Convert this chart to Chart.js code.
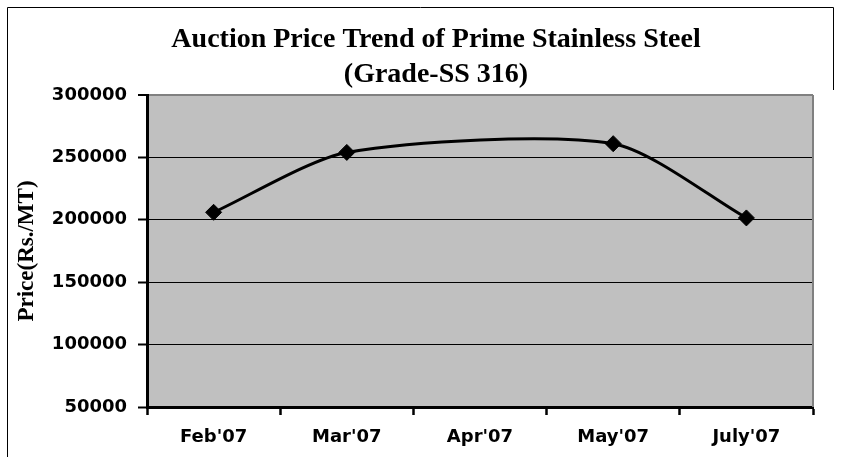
<!DOCTYPE html>
<html>
<head>
<meta charset="utf-8">
<script src="https://cdn.jsdelivr.net/npm/chart.js@4"></script>
<style>
    html, body { margin: 0; padding: 0; background: #fff; }
    #wrap { width: 841px; height: 457px; }
</style>
</head>
<body>
<div id="wrap"><canvas id="priceChart" width="841" height="457"></canvas></div>
<script>
const months = ["Feb'07", "Mar'07", "Apr'07", "May'07", "July'07"];
// Apr'07 has no marker in the source, the line just runs through
const prices = [206000, 254000, null, 261000, 201500];
const priceMin = 50000;
const priceMax = 300000;
const priceStep = 50000;
const titleLines = ['Auction Price Trend of Prime Stainless Steel', '(Grade-SS 316)'];
const axisTitle = 'Price(Rs./MT)';

// Grey plot area, frame lines and the page border
const framePlugin = {
    id: 'frame',
    afterLayout(chart) {
        // title sits a bit left of the plot centre in the original
        chart.titleBlock.left = 31;
        chart.titleBlock.right = 841;
    },
    beforeDraw(chart) {
        const { ctx, chartArea: a } = chart;
        ctx.save();
        ctx.fillStyle = '#c0c0c0';
        ctx.fillRect(a.left, a.top, a.right - a.left, a.bottom - a.top);
        ctx.restore();
    },
    beforeDatasetsDraw(chart) {
        const { ctx, chartArea: a } = chart;
        ctx.save();
        ctx.strokeStyle = '#808080';
        ctx.lineWidth = 2;
        ctx.beginPath();
        ctx.moveTo(a.right, a.top);
        ctx.lineTo(a.right, a.bottom);
        ctx.stroke();
        ctx.restore();
    },
    afterDraw(chart) {
        const { ctx } = chart;
        ctx.save();
        ctx.strokeStyle = '#000';
        ctx.lineWidth = 1;
        ctx.beginPath();
        ctx.moveTo(7.5, 457);
        ctx.lineTo(7.5, 7.5);
        ctx.lineTo(833.5, 7.5);
        ctx.lineTo(833.5, 90);
        ctx.stroke();
        ctx.restore();
    }
};

new Chart(document.getElementById('priceChart'), {
    type: 'line',
    data: {
        labels: months,
        datasets: [{
            data: prices,
            borderColor: '#000',
            borderWidth: 3,
            tension: 0.25,
            spanGaps: true,
            fill: false,
            pointStyle: 'rectRot',
            pointRadius: 8,
            pointBorderWidth: 1,
            pointBackgroundColor: '#000',
            pointBorderColor: '#000'
        }]
    },
    options: {
        responsive: false,
        animation: false,
        events: [],
        layout: { padding: { top: 0, left: 8, right: 28, bottom: 0 } },
        plugins: {
            legend: { display: false },
            tooltip: { enabled: false },
            title: {
                display: true,
                text: titleLines,
                color: '#000',
                font: { family: 'Liberation Serif', size: 28, weight: 'bold', lineHeight: 35 / 28 },
                padding: { top: 22, bottom: 3 }
            }
        },
        scales: {
            x: {
                offset: true,
                grid: {
                    offset: true,
                    drawOnChartArea: false,
                    tickLength: 8,
                    tickColor: '#000',
                    tickWidth: 2.5
                },
                border: { color: '#000', width: 3 },
                ticks: {
                    color: '#000',
                    padding: 12,
                    maxRotation: 0,
                    font: { family: 'DejaVu Sans', size: 18, weight: 'bold' }
                },
                afterFit(scale) { scale.height = 50; }
            },
            y: {
                min: priceMin,
                max: priceMax,
                grid: {
                    color: (c) => c.tick && c.tick.value === priceMax ? '#808080' : '#000',
                    lineWidth: (c) => c.tick && c.tick.value === priceMax ? 2 : 1,
                    tickLength: 9,
                    tickColor: '#000',
                    tickWidth: 2
                },
                border: { color: '#000', width: 3 },
                ticks: {
                    stepSize: priceStep,
                    color: '#000',
                    padding: 11,
                    font: { family: 'DejaVu Sans', size: 18, weight: 'bold' },
                    callback: (v) => String(v)
                },
                title: {
                    display: true,
                    text: axisTitle,
                    color: '#000',
                    padding: { top: 5, bottom: 0 },
                    font: { family: 'Liberation Serif', size: 23, weight: 'bold' }
                },
                afterFit(scale) { scale.width = 139; }
            }
        }
    },
    plugins: [framePlugin]
});
</script>
</body>
</html>
